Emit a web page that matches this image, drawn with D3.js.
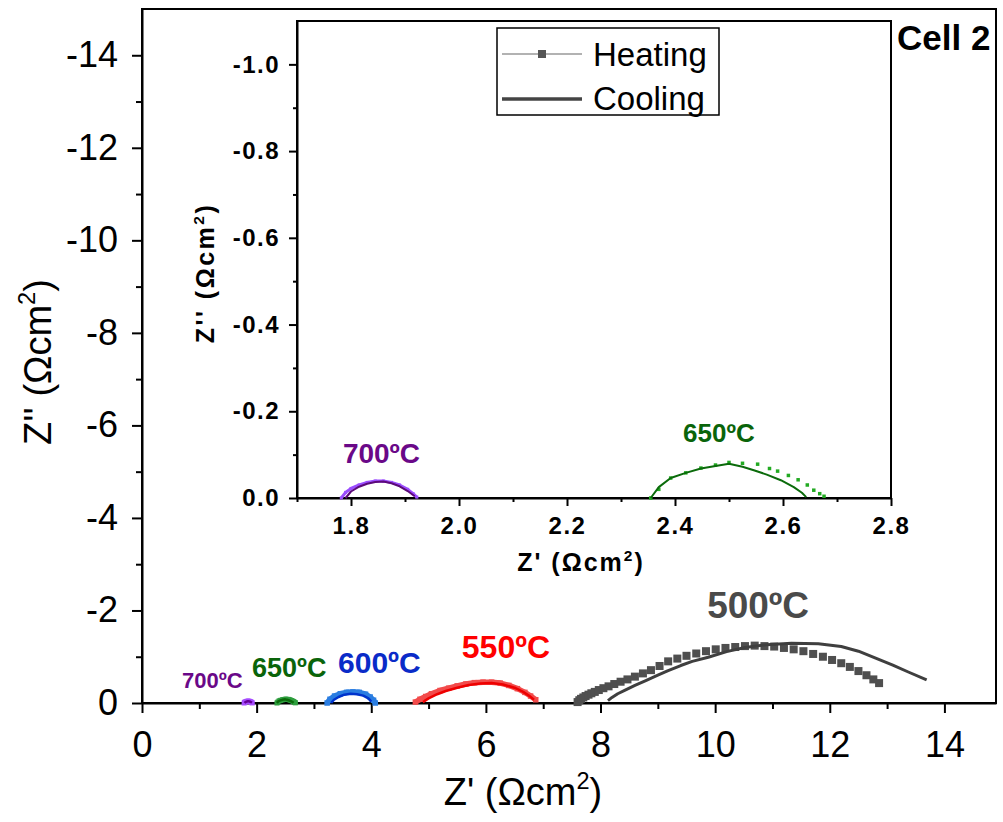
<!DOCTYPE html>
<html>
<head>
<meta charset="utf-8">
<script src="https://cdn.jsdelivr.net/npm/d3@7"></script>
<style>
  body { margin: 0; background: #fff; }
  svg { display: block; font-family: "Liberation Sans", Arial, sans-serif; }
</style>
</head>
<body>
<div id="chart"></div>
<script>
// ---- data (Z' in Ohm cm2, Z'' negative) ----
const heat500Re = [7.60, 7.63, 7.66, 7.70, 7.74, 7.79, 7.84, 7.90, 7.97, 8.05, 8.14, 8.24, 8.35, 8.47, 8.60, 8.74, 8.88, 9.03, 9.18, 9.34, 9.50, 9.67, 9.84, 10.01, 10.18, 10.35, 10.52, 10.69, 10.86, 11.03, 11.20, 11.37, 11.54, 11.71, 11.88, 12.04, 12.20, 12.35, 12.50, 12.64, 12.76, 12.86];
const heat500Im = [-0.02, -0.06, -0.09, -0.12, -0.15, -0.18, -0.21, -0.24, -0.28, -0.32, -0.36, -0.41, -0.46, -0.51, -0.57, -0.64, -0.71, -0.80, -0.90, -0.96, -1.02, -1.07, -1.12, -1.16, -1.19, -1.21, -1.23, -1.24, -1.23, -1.22, -1.19, -1.16, -1.12, -1.06, -1.00, -0.93, -0.86, -0.78, -0.69, -0.60, -0.51, -0.43];
const cool500Re = [8.13, 8.20, 8.30, 8.43, 8.60, 8.80, 9.00, 9.18, 9.40, 9.60, 9.88, 10.20, 10.52, 10.90, 11.33, 11.80, 12.20, 12.50, 12.80, 13.10, 13.37, 13.69];
const cool500Im = [-0.05, -0.12, -0.20, -0.28, -0.38, -0.49, -0.60, -0.70, -0.81, -0.90, -0.99, -1.11, -1.20, -1.26, -1.29, -1.28, -1.22, -1.12, -0.97, -0.82, -0.67, -0.50];

const heat550Re = [4.77, 4.85, 4.95, 5.05, 5.20, 5.35, 5.50, 5.65, 5.80, 5.95, 6.10, 6.25, 6.40, 6.55, 6.68, 6.78, 6.87];
const heat550Im = [-0.02, -0.08, -0.14, -0.20, -0.27, -0.32, -0.37, -0.41, -0.44, -0.45, -0.45, -0.43, -0.38, -0.31, -0.23, -0.15, -0.07];
const cool550Re = [4.90, 5.00, 5.15, 5.30, 5.50, 5.70, 5.90, 6.10, 6.30, 6.50, 6.65, 6.75, 6.84];
const cool550Im = [-0.02, -0.10, -0.19, -0.26, -0.33, -0.39, -0.42, -0.43, -0.40, -0.33, -0.24, -0.16, -0.07];

const heat600Re = [3.23, 3.28, 3.36, 3.46, 3.57, 3.68, 3.79, 3.90, 3.98, 4.04, 4.07];
const heat600Im = [0.0, -0.08, -0.15, -0.20, -0.23, -0.24, -0.23, -0.19, -0.13, -0.06, 0.0];
const cool600Re = [3.30, 3.35, 3.43, 3.53, 3.64, 3.75, 3.86, 3.95, 4.00];
const cool600Im = [0.0, -0.07, -0.13, -0.18, -0.20, -0.19, -0.16, -0.10, -0.03];

const heat650Re = [2.355, 2.37, 2.392, 2.42, 2.448, 2.475, 2.50, 2.525, 2.553, 2.575, 2.59, 2.61, 2.628, 2.645, 2.657, 2.668, 2.676];
const heat650Im = [0.0, -0.02, -0.046, -0.058, -0.069, -0.076, -0.082, -0.080, -0.078, -0.068, -0.062, -0.052, -0.042, -0.030, -0.018, -0.010, -0.004];
const cool650Re = [2.355, 2.37, 2.392, 2.42, 2.448, 2.475, 2.50, 2.525, 2.546, 2.57, 2.596, 2.62, 2.635, 2.643];
const cool650Im = [0.0, -0.025, -0.046, -0.058, -0.068, -0.074, -0.079, -0.072, -0.064, -0.054, -0.041, -0.025, -0.012, -0.002];

const heat700Re = [1.782, 1.79, 1.80, 1.815, 1.83, 1.845, 1.86, 1.875, 1.89, 1.905, 1.915, 1.922];
const heat700Im = [0.0, -0.013, -0.022, -0.030, -0.036, -0.039, -0.039, -0.036, -0.030, -0.020, -0.010, -0.002];
const cool700Re = [1.79, 1.80, 1.815, 1.83, 1.845, 1.86, 1.875, 1.89, 1.905, 1.918];
const cool700Im = [0.0, -0.015, -0.026, -0.033, -0.037, -0.038, -0.034, -0.027, -0.016, -0.004];

const mainXTicks = [0, 2, 4, 6, 8, 10, 12, 14];
const mainXMinor = [1, 3, 5, 7, 9, 11, 13];
const mainYTicks = [0, -2, -4, -6, -8, -10, -12, -14];
const mainYMinor = [-1, -3, -5, -7, -9, -11, -13];
const insetXTicks = [1.8, 2.0, 2.2, 2.4, 2.6, 2.8];
const insetXMinor = [1.7, 1.9, 2.1, 2.3, 2.5, 2.7];
const insetYTicks = [0, -0.2, -0.4, -0.6, -0.8, -1.0];
const insetYMinor = [-0.1, -0.3, -0.5, -0.7, -0.9];
const legendNames = ['Heating', 'Cooling'];
const tempNames = ['700ºC', '650ºC', '600ºC', '550ºC', '500ºC'];

const width = 1003;
const height = 822;

const svg = d3.select('#chart').append('svg')
    .attr('width', width)
    .attr('height', height);

const zip = (re, im) => re.map((d, i) => [d, im[i]]);

// ---- main plot ----
const x = d3.scaleLinear().domain([0, 14.9]).range([142, 996]);
const y = d3.scaleLinear().domain([0, -15]).range([703, 9]);

function styleAxis(g, size, bold) {
    g.selectAll('path').attr('stroke', '#000').attr('stroke-width', 2);
    g.selectAll('line').attr('stroke', '#000').attr('stroke-width', 2);
    g.selectAll('text').attr('fill', '#000').attr('font-size', size)
        .attr('font-weight', bold ? 'bold' : 'normal')
        .attr('font-family', '"Liberation Sans", Arial, sans-serif');
}

// frame
svg.append('rect')
    .attr('x', x(0)).attr('y', y(-15))
    .attr('width', x(14.9) - x(0)).attr('height', y(0) - y(-15))
    .attr('fill', 'none').attr('stroke', '#000').attr('stroke-width', 2);

svg.append('g').attr('transform', `translate(0, ${y(0)})`)
    .call(d3.axisBottom(x).tickValues(mainXTicks).tickSize(10).tickSizeOuter(0).tickPadding(18).tickFormat(d => String(d)))
    .call(g => styleAxis(g, 36, false));
svg.append('g').attr('transform', `translate(0, ${y(0)})`)
    .call(d3.axisBottom(x).tickValues(mainXMinor).tickSize(6).tickFormat(''))
    .call(g => g.select('.domain').remove())
    .call(g => styleAxis(g, 36, false));
svg.append('g').attr('transform', `translate(${x(0)}, 0)`)
    .call(d3.axisLeft(y).tickValues(mainYTicks).tickSize(10).tickSizeOuter(0).tickPadding(14).tickFormat(d => String(d)))
    .call(g => styleAxis(g, 36, false));
svg.append('g').attr('transform', `translate(${x(0)}, 0)`)
    .call(d3.axisLeft(y).tickValues(mainYMinor).tickSize(6).tickFormat(''))
    .call(g => g.select('.domain').remove())
    .call(g => styleAxis(g, 36, false));

// axis titles
function unitTitle(sel, prefix, size) {
    sel.append('tspan').text(prefix + ' (Ωcm');
    sel.append('tspan').text('2').attr('font-size', size * 0.62).attr('dy', -size * 0.42);
    sel.append('tspan').text(')').attr('dy', size * 0.42);
}
svg.append('text')
    .attr('x', 523).attr('y', 805)
    .attr('text-anchor', 'middle').attr('font-size', 38)
    .call(s => unitTitle(s, "Z'", 38));
svg.append('text')
    .attr('transform', 'translate(51, 362) rotate(-90)')
    .attr('text-anchor', 'middle').attr('font-size', 38)
    .call(s => unitTitle(s, "Z''", 38));

// series
const line = (sx, sy) => d3.line().x(d => sx(d[0])).y(d => sy(d[1]));

function drawSeries(g, sx, sy, pts, opt) {
    if (opt.lineWidth) {
        g.append('path').datum(pts)
            .attr('d', line(sx, sy))
            .attr('fill', 'none')
            .attr('stroke', opt.color)
            .attr('stroke-width', opt.lineWidth)
            .attr('stroke-linejoin', 'round');
    }
    if (opt.marker) {
        g.selectAll(null).data(pts).enter().append('rect')
            .attr('x', d => sx(d[0]) - opt.marker / 2)
            .attr('y', d => sy(d[1]) - opt.marker / 2)
            .attr('width', opt.marker).attr('height', opt.marker)
            .attr('fill', opt.color);
    }
}

const mainG = svg.append('g');
drawSeries(mainG, x, y, zip(heat700Re, heat700Im), { color: '#a64dff', lineWidth: 5, marker: 5 });
drawSeries(mainG, x, y, zip(cool700Re, cool700Im), { color: '#660099', lineWidth: 2.5 });
drawSeries(mainG, x, y, zip(heat650Re, heat650Im), { color: '#2e9e3e', lineWidth: 5, marker: 5 });
drawSeries(mainG, x, y, zip(cool650Re, cool650Im), { color: '#0b6b0b', lineWidth: 2.5 });
drawSeries(mainG, x, y, zip(heat600Re, heat600Im), { color: '#2a7de1', lineWidth: 5.5, marker: 5.5 });
drawSeries(mainG, x, y, zip(cool600Re, cool600Im), { color: '#0033cc', lineWidth: 2.5 });
drawSeries(mainG, x, y, zip(heat550Re, heat550Im), { color: '#f24b4b', lineWidth: 5.5, marker: 5.5 });
drawSeries(mainG, x, y, zip(cool550Re, cool550Im), { color: '#ee0000', lineWidth: 2.5 });
drawSeries(mainG, x, y, zip(heat500Re, heat500Im), { color: '#4f4f4f', marker: 8 });
drawSeries(mainG, x, y, zip(cool500Re, cool500Im), { color: '#3f3f3f', lineWidth: 3 });

// temperature labels
const mainLabels = [
    { t: tempNames[0], x: 0.70, y: -0.32, size: 22, color: '#6a0888' },
    { t: tempNames[1], x: 1.92, y: -0.56, size: 27, color: '#0a640a' },
    { t: tempNames[2], x: 3.42, y: -0.65, size: 30, color: '#0a2bc8' },
    { t: tempNames[3], x: 5.58, y: -0.97, size: 32, color: '#ff0000' },
    { t: tempNames[4], x: 9.86, y: -1.84, size: 37, color: '#4a4a4a' }
];
svg.selectAll(null).data(mainLabels).enter().append('text')
    .attr('x', d => x(d.x)).attr('y', d => y(d.y))
    .attr('font-size', d => d.size).attr('font-weight', 'bold')
    .attr('fill', d => d.color)
    .text(d => d.t);

svg.append('text')
    .attr('x', 897).attr('y', 50)
    .attr('font-size', 35).attr('font-weight', 'bold')
    .text('Cell 2');

// ---- inset ----
const ix = d3.scaleLinear().domain([1.7, 2.8]).range([297, 891]);
const iy = d3.scaleLinear().domain([0, -1.1]).range([498, 21]);

svg.append('rect')
    .attr('x', ix(1.7)).attr('y', iy(-1.1))
    .attr('width', ix(2.8) - ix(1.7)).attr('height', iy(0) - iy(-1.1))
    .attr('fill', '#fff').attr('stroke', '#000').attr('stroke-width', 2);

svg.append('g').attr('transform', `translate(0, ${iy(0)})`)
    .call(d3.axisBottom(ix).tickValues(insetXTicks).tickSize(8).tickSizeOuter(0).tickPadding(11).tickFormat(d => d.toFixed(1)))
    .call(g => styleAxis(g, 24, true))
    .call(g => g.selectAll('text').attr('letter-spacing', 1.5));
svg.append('g').attr('transform', `translate(0, ${iy(0)})`)
    .call(d3.axisBottom(ix).tickValues(insetXMinor).tickSize(4).tickFormat(''))
    .call(g => g.select('.domain').remove())
    .call(g => styleAxis(g, 24, true));
svg.append('g').attr('transform', `translate(${ix(1.7)}, 0)`)
    .call(d3.axisLeft(iy).tickValues(insetYTicks).tickSize(8).tickSizeOuter(0).tickPadding(9).tickFormat(d => d.toFixed(1)))
    .call(g => styleAxis(g, 24, true))
    .call(g => g.selectAll('text').attr('letter-spacing', 1.5));
svg.append('g').attr('transform', `translate(${ix(1.7)}, 0)`)
    .call(d3.axisLeft(iy).tickValues(insetYMinor).tickSize(4).tickFormat(''))
    .call(g => g.select('.domain').remove())
    .call(g => styleAxis(g, 24, true));

svg.append('text')
    .attr('x', 581).attr('y', 571)
    .attr('text-anchor', 'middle').attr('font-size', 25).attr('font-weight', 'bold')
    .attr('letter-spacing', 2)
    .call(s => unitTitle(s, "Z'", 25));
svg.append('text')
    .attr('transform', 'translate(214, 273) rotate(-90)')
    .attr('text-anchor', 'middle').attr('font-size', 25).attr('font-weight', 'bold')
    .attr('letter-spacing', 2.5)
    .call(s => unitTitle(s, "Z''", 25));

const insetG = svg.append('g');
drawSeries(insetG, ix, iy, zip(heat700Re, heat700Im), { color: '#9b4dff', lineWidth: 3, marker: 3 });
drawSeries(insetG, ix, iy, zip(cool700Re, cool700Im), { color: '#5c0a7a', lineWidth: 2 });
drawSeries(insetG, ix, iy, zip(heat650Re, heat650Im), { color: '#22aa22', marker: 3.5 });
drawSeries(insetG, ix, iy, zip(cool650Re, cool650Im), { color: '#0b6b0b', lineWidth: 2 });

const insetLabels = [
    { t: tempNames[0], x: 1.785, y: -0.081, size: 28, color: '#6a0888' },
    { t: tempNames[1], x: 2.415, y: -0.129, size: 26, color: '#0a640a' }
];
svg.selectAll(null).data(insetLabels).enter().append('text')
    .attr('x', d => ix(d.x)).attr('y', d => iy(d.y))
    .attr('font-size', d => d.size).attr('font-weight', 'bold')
    .attr('fill', d => d.color)
    .text(d => d.t);

// ---- legend ----
const legend = svg.append('g').attr('transform', 'translate(497, 28)');
legend.append('rect')
    .attr('width', 222).attr('height', 87)
    .attr('fill', '#fff').attr('stroke', '#000').attr('stroke-width', 1.5);
legend.append('line')
    .attr('x1', 5).attr('x2', 85).attr('y1', 26).attr('y2', 26)
    .attr('stroke', '#999').attr('stroke-width', 1.5);
legend.append('rect')
    .attr('x', 41).attr('y', 22).attr('width', 8).attr('height', 8)
    .attr('fill', '#555');
legend.append('line')
    .attr('x1', 5).attr('x2', 85).attr('y1', 71).attr('y2', 71)
    .attr('stroke', '#444').attr('stroke-width', 3.5);
legend.selectAll(null).data(legendNames).enter().append('text')
    .attr('x', 96).attr('y', (d, i) => 38 + i * 44)
    .attr('font-size', 33)
    .text(d => d);
</script>
</body>
</html>
